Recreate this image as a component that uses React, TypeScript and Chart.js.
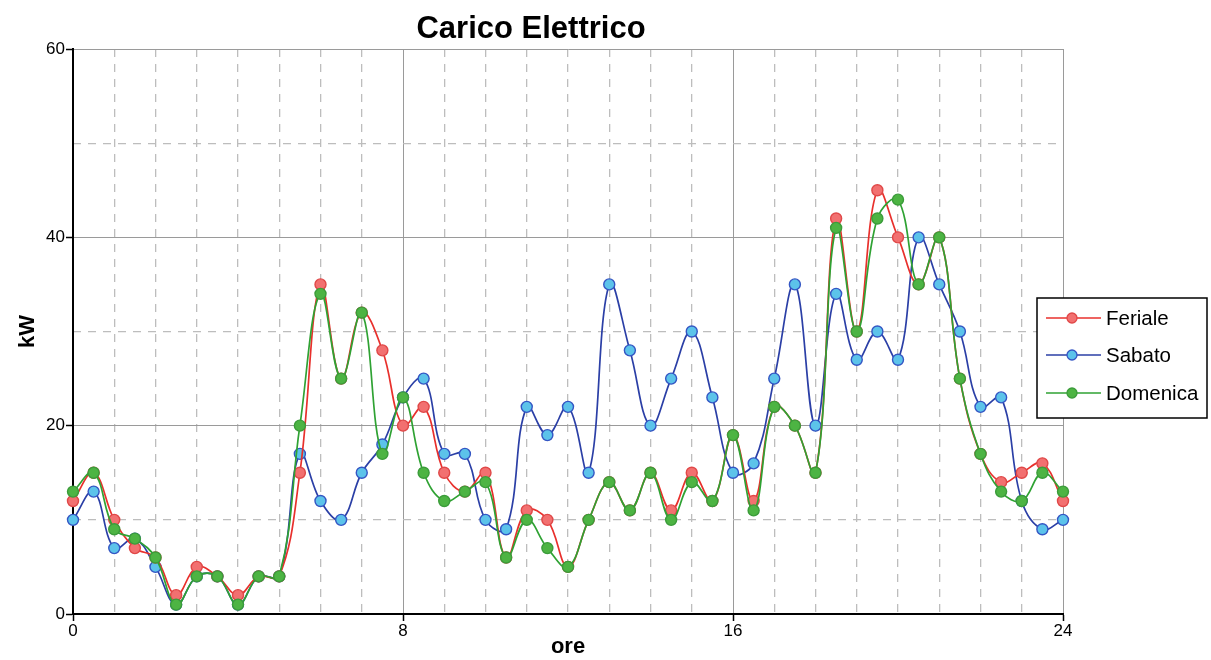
import React, { useEffect, useRef } from "react";
import { Chart, registerables } from "chart.js";

Chart.register(...registerables);

const FONT = "'Liberation Sans', Arial, Helvetica, sans-serif";

const chartTitle = "Carico Elettrico";
const xTitle = "ore";
const yTitle = "kW";

const hours = [
  0, 0.5, 1, 1.5, 2, 2.5, 3, 3.5, 4, 4.5, 5, 5.5, 6, 6.5, 7, 7.5, 8, 8.5, 9, 9.5,
  10, 10.5, 11, 11.5, 12, 12.5, 13, 13.5, 14, 14.5, 15, 15.5, 16, 16.5, 17, 17.5,
  18, 18.5, 19, 19.5, 20, 20.5, 21, 21.5, 22, 22.5, 23, 23.5, 24,
];

const feriale = [
  12, 15, 10, 7, 6, 2, 5, 4, 2, 4, 4, 15, 35, 25, 32, 28, 20, 22, 15, 13,
  15, 6, 11, 10, 5, 10, 14, 11, 15, 11, 15, 12, 19, 12, 22, 20,
  15, 42, 30, 45, 40, 35, 40, 25, 17, 14, 15, 16, 12,
];

const sabato = [
  10, 13, 7, 8, 5, 1, 4, 4, 1, 4, 4, 17, 12, 10, 15, 18, 23, 25, 17, 17,
  10, 9, 22, 19, 22, 15, 35, 28, 20, 25, 30, 23, 15, 16, 25, 35,
  20, 34, 27, 30, 27, 40, 35, 30, 22, 23, 12, 9, 10,
];

const domenica = [
  13, 15, 9, 8, 6, 1, 4, 4, 1, 4, 4, 20, 34, 25, 32, 17, 23, 15, 12, 13,
  14, 6, 10, 7, 5, 10, 14, 11, 15, 10, 14, 12, 19, 11, 22, 20,
  15, 41, 30, 42, 44, 35, 40, 25, 17, 13, 12, 15, 13,
];

const seriesLabels = ["Feriale", "Sabato", "Domenica"];
const xMajorTicks = [0, 8, 16, 24];
const yMajorTicks = [0, 20, 40, 60];

const styles = [
  { line: "#e8302c", fill: "#f27070", border: "#e04848" },
  { line: "#2b3fa6", fill: "#5cc3ea", border: "#3456c4" },
  { line: "#2fa233", fill: "#4db443", border: "#3b9c3a" },
];

const toPoints = (vals: number[]) => hours.map((h, i) => ({ x: h, y: vals[i] }));

const titlePlugin = {
  id: "customTitle",
  afterDraw(chart: any) {
    const ctx = chart.ctx;
    ctx.save();
    ctx.fillStyle = "#000";
    ctx.font = `bold 31px ${FONT}`;
    ctx.textAlign = "center";
    ctx.textBaseline = "middle";
    ctx.fillText(chartTitle, 531, 29);
    ctx.restore();
  },
};

const legendPlugin = {
  id: "customLegend",
  afterDraw(chart: any) {
    const ctx = chart.ctx;
    const bx = 1037, by = 298, bw = 170, bh = 120;
    ctx.save();
    ctx.fillStyle = "#fff";
    ctx.fillRect(bx, by, bw, bh);
    ctx.strokeStyle = "#000";
    ctx.lineWidth = 1.5;
    ctx.strokeRect(bx, by, bw, bh);
    const rows = [318, 355, 393];
    [0, 1, 2].forEach((i) => {
      const ds = chart.data.datasets[i];
      const y = rows[i];
      ctx.strokeStyle = ds.borderColor;
      ctx.lineWidth = 1.6;
      ctx.beginPath();
      ctx.moveTo(1046, y);
      ctx.lineTo(1101, y);
      ctx.stroke();
      ctx.beginPath();
      ctx.arc(1072, y, 5, 0, Math.PI * 2);
      ctx.fillStyle = ds.pointBackgroundColor;
      ctx.fill();
      ctx.strokeStyle = ds.pointBorderColor;
      ctx.lineWidth = 1.3;
      ctx.stroke();
      ctx.fillStyle = "#000";
      ctx.font = `20.5px ${FONT}`;
      ctx.textAlign = "left";
      ctx.textBaseline = "middle";
      ctx.fillText(ds.label, 1106, y + 1);
    });
    ctx.restore();
  },
};

export default function App() {
  const ref = useRef<HTMLCanvasElement | null>(null);

  useEffect(() => {
    if (!ref.current) return;
    const allValues = [feriale, sabato, domenica];
    const orders = [1, 2, 0];
    const chart = new Chart(ref.current, {
      type: "line",
      data: {
        datasets: allValues.map((vals, i) => ({
          label: seriesLabels[i],
          data: toPoints(vals),
          borderColor: styles[i].line,
          backgroundColor: styles[i].fill,
          pointBackgroundColor: styles[i].fill,
          pointBorderColor: styles[i].border,
          pointBorderWidth: 1.4,
          pointRadius: 5.5,
          borderWidth: 1.7,
          tension: 0.4,
          fill: false,
          clip: false,
          order: orders[i],
        })),
      },
      options: {
        responsive: false,
        animation: false,
        layout: { padding: { left: 0, top: 49, right: 148, bottom: 0 } },
        plugins: {
          legend: { display: false },
          title: { display: false },
          tooltip: { enabled: false },
        },
        scales: {
          x: {
            type: "linear",
            position: "bottom",
            min: 0,
            max: 24,
            afterBuildTicks: (scale: any) => {
              scale.ticks = xMajorTicks.map((v) => ({ value: v }));
            },
            afterFit: (scale: any) => {
              scale.height = 46;
            },
            ticks: {
              color: "#000",
              font: { family: FONT, size: 17 },
              padding: 0,
              maxRotation: 0,
              autoSkip: false,
            },
            grid: {
              color: "#9a9a9a",
              lineWidth: 1,
              drawTicks: true,
              tickLength: 7,
              tickColor: "#000",
              tickWidth: 1.5,
            },
            border: { display: true, color: "#000", width: 2 },
            title: {
              display: true,
              text: xTitle,
              color: "#000",
              font: { family: FONT, size: 22, weight: "bold" },
              padding: { top: 0, bottom: 0 },
            },
          },
          xMinor: {
            type: "linear",
            position: "bottom",
            min: 0,
            max: 24,
            ticks: { display: false, stepSize: 1 },
            afterFit: (scale: any) => {
              scale.height = 0;
            },
            grid: {
              color: (c: any) => (c.tick && c.tick.value % 8 === 0 ? "rgba(0,0,0,0)" : "#bdbdbd"),
              lineWidth: 1.3,
              drawTicks: false,
            },
            border: { display: false, dash: [8, 7] },
          },
          y: {
            type: "linear",
            position: "left",
            min: 0,
            max: 60,
            afterBuildTicks: (scale: any) => {
              scale.ticks = yMajorTicks.map((v) => ({ value: v }));
            },
            afterFit: (scale: any) => {
              scale.width = 73;
            },
            ticks: {
              color: "#000",
              font: { family: FONT, size: 17 },
              padding: 1,
            },
            grid: {
              color: "#9a9a9a",
              lineWidth: 1,
              drawTicks: true,
              tickLength: 7,
              tickColor: "#000",
              tickWidth: 1.5,
            },
            border: { display: true, color: "#000", width: 2 },
            title: {
              display: true,
              text: yTitle,
              color: "#000",
              font: { family: FONT, size: 22, weight: "bold" },
              padding: { top: 15, bottom: 0 },
            },
          },
          yMinor: {
            type: "linear",
            position: "left",
            min: 0,
            max: 60,
            ticks: { display: false, stepSize: 10 },
            afterFit: (scale: any) => {
              scale.width = 0;
            },
            grid: {
              color: (c: any) => (c.tick && c.tick.value % 20 === 0 ? "rgba(0,0,0,0)" : "#bdbdbd"),
              lineWidth: 1.3,
              drawTicks: false,
            },
            border: { display: false, dash: [8, 7] },
          },
        },
      },
      plugins: [titlePlugin, legendPlugin],
    } as any);
    return () => chart.destroy();
  }, []);

  return (
    <div style={{ position: "absolute", left: 0, top: 0, width: 1211, height: 660, background: "#fff" }}>
      <canvas ref={ref} width={1211} height={660} />
    </div>
  );
}
